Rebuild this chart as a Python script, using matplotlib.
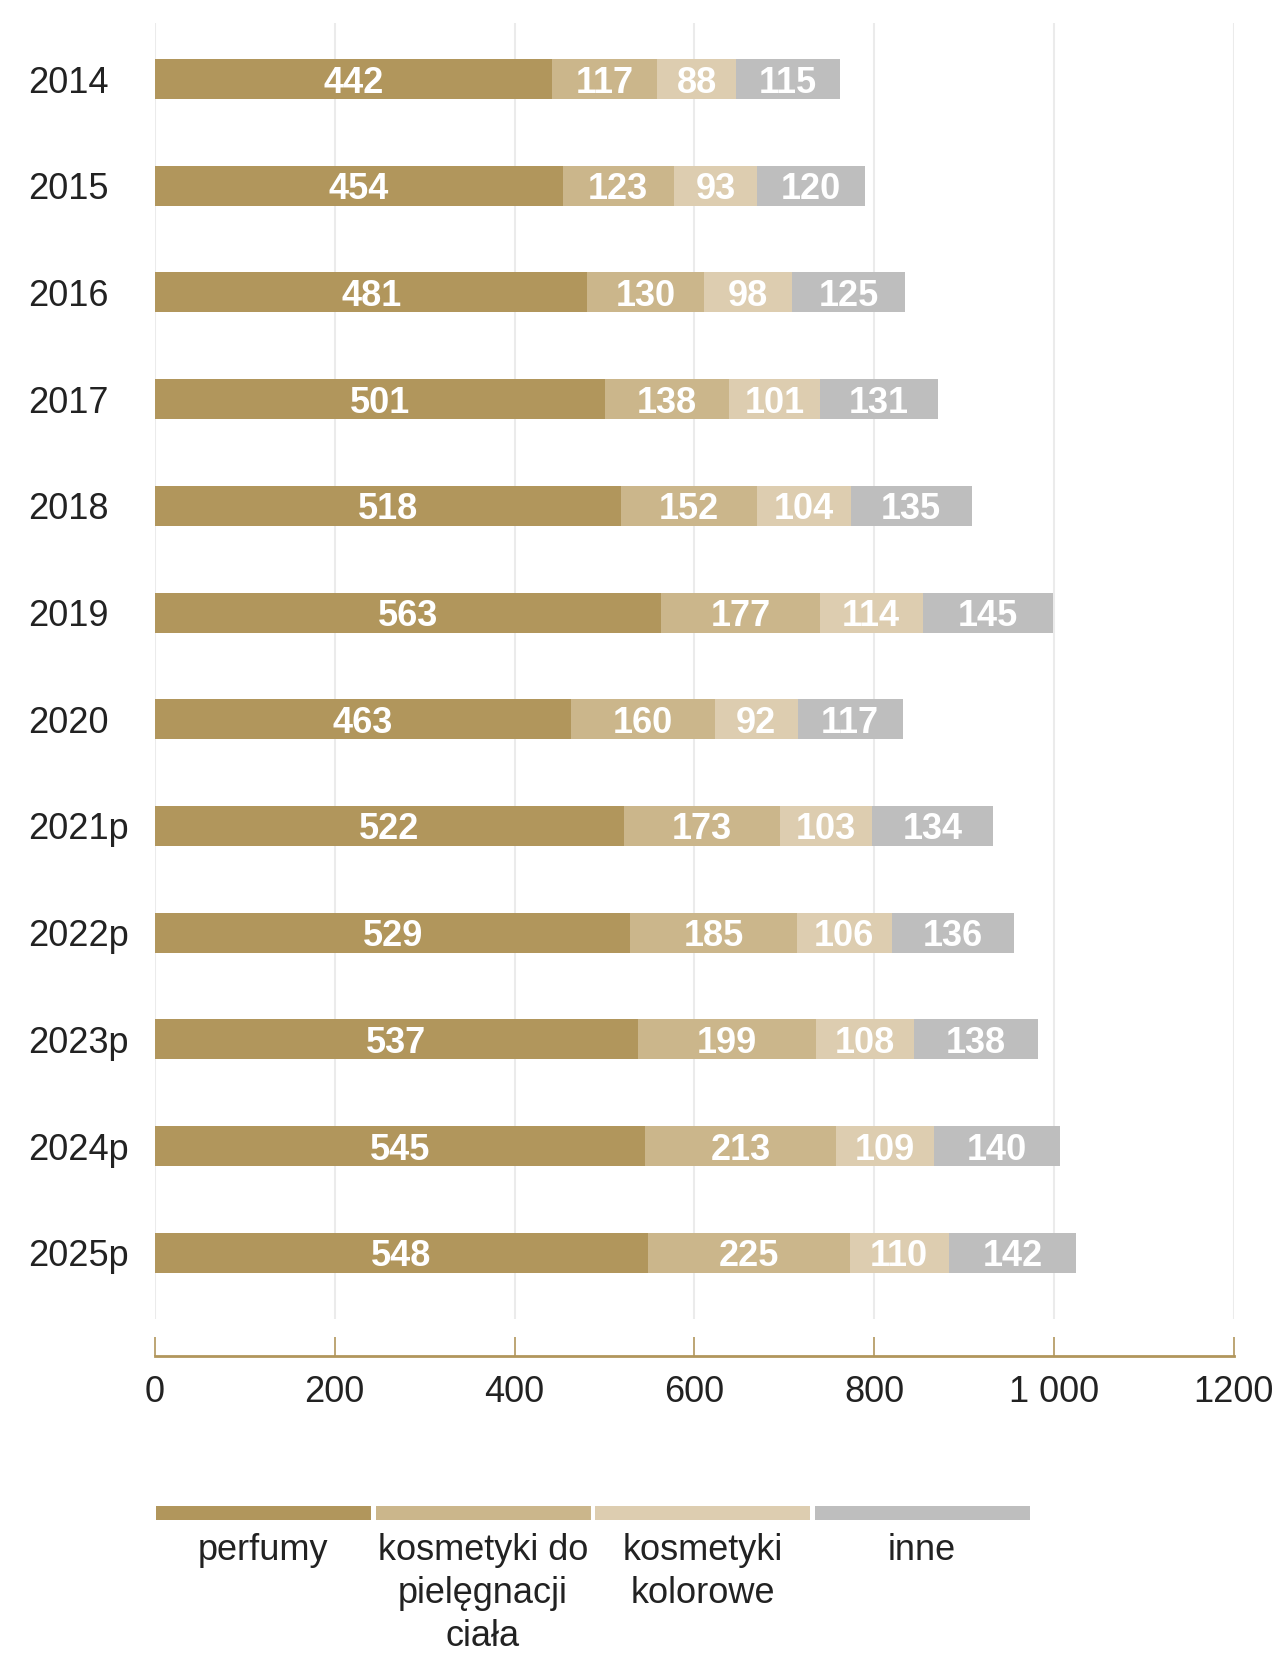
import matplotlib
matplotlib.use("Agg")
import matplotlib.pyplot as plt
import numpy as np

plt.rcParams["font.family"] = ["Liberation Sans", "DejaVu Sans"]

years = ["2014", "2015", "2016", "2017", "2018", "2019", "2020",
         "2021p", "2022p", "2023p", "2024p", "2025p"]
perfumy = [442, 454, 481, 501, 518, 563, 463, 522, 529, 537, 545, 548]
pielegnacja = [117, 123, 130, 138, 152, 177, 160, 173, 185, 199, 213, 225]
kolorowe = [88, 93, 98, 101, 104, 114, 92, 103, 106, 108, 109, 110]
inne = [115, 120, 125, 131, 135, 145, 117, 134, 136, 138, 140, 142]

series_names = ["perfumy", "kosmetyki do\npielęgnacji\nciała",
                "kosmetyki\nkolorowe", "inne"]
colors = ["#b1965c", "#cbb68b", "#ddcdb0", "#bebebe"]
x_ticks = [0, 200, 400, 600, 800, 1000, 1200]
x_ticklabels = ["0", "200", "400", "600", "800", "1 000", "1200"]

W, H = 1281, 1655
fig = plt.figure(figsize=(W / 100, H / 100), dpi=100)

# main chart
ax = fig.add_axes([155 / W, 1 - 1319 / H, (1233.5 - 155) / W, (1319 - 23) / H])
# move the bottom spine first: set_position resets tick styling
for side in ["top", "right", "left"]:
    ax.spines[side].set_visible(False)
ax.spines["bottom"].set_position(("outward", 26.5))
ax.spines["bottom"].set_color("#b1965c")
ax.spines["bottom"].set_linewidth(2)

y = np.arange(len(years))
left = np.zeros(len(years))
for vals, col in zip([perfumy, pielegnacja, kolorowe, inne], colors):
    bars = ax.barh(y, vals, left=left, height=0.375, color=col, zorder=3)
    labels = ax.bar_label(bars, labels=[str(v) for v in vals],
                          label_type="center", color="white",
                          fontsize=26, fontweight="bold")
    for t in labels:
        t.set_va("center_baseline")
    left += np.array(vals)

ax.set_xlim(0, 1200)
ax.set_ylim(11.62, -0.525)
ax.set_yticks(y)
ax.set_yticklabels(years, ha="left", fontsize=26, color="#222222")
ax.tick_params(axis="y", length=0, pad=91)
ax.set_xticks(x_ticks)
ax.set_xticklabels(x_ticklabels, fontsize=26, color="#222222")
ax.tick_params(axis="x", direction="in", length=13.5, width=1.2,
               color="#b1965c", pad=14)
ax.grid(axis="x", color="#ebebeb", linewidth=1.5, zorder=0)

# legend strip below the chart
lg = fig.add_axes([0, 0, 1, 1 - 1495 / H])
lg.set_xlim(0, W)
lg.set_ylim(H, 1495)
lg.axis("off")
slot = 219.5
for i, (name, col) in enumerate(zip(series_names, colors)):
    x0 = 156 + i * slot
    lg.bar(x0, 14, width=slot - 4.5, bottom=1506, align="edge", color=col)
    lg.text(x0 + (slot - 4.5) / 2, 1533, name, ha="center", va="top",
            fontsize=26, color="#222222", linespacing=1.3)

fig.savefig("out.png", dpi=100)
